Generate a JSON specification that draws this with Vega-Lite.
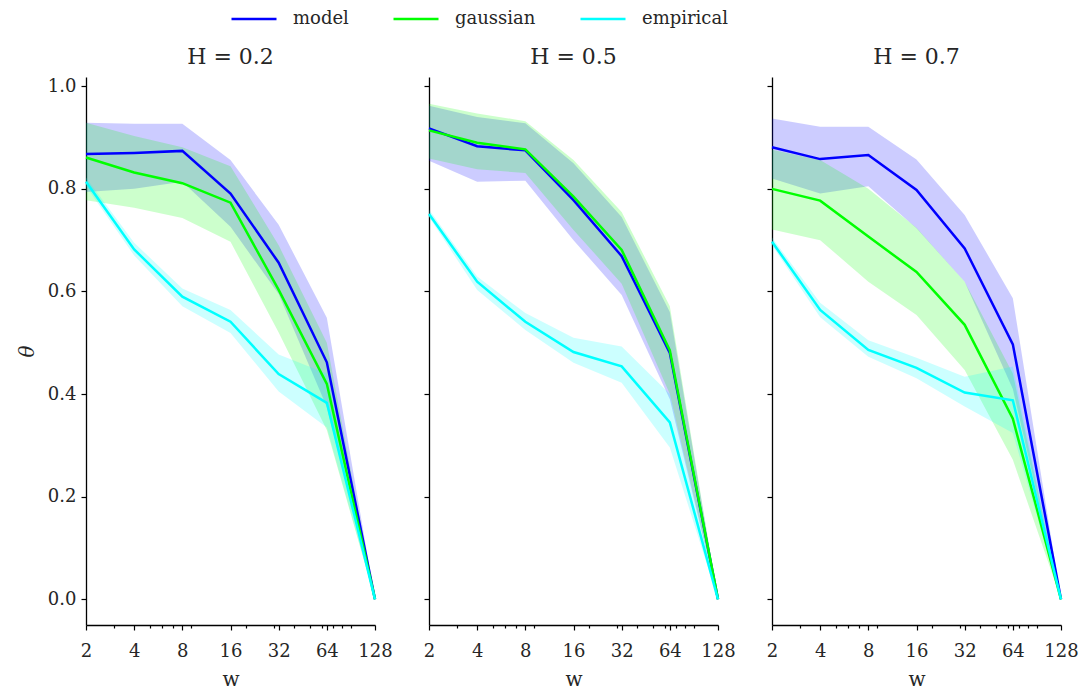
{
  "$schema": "https://vega.github.io/schema/vega-lite/v6.json",
  "background": "white",
  "padding": {"left": 17, "top": -5, "right": 5, "bottom": 0},
  "datasets": {
    "d": [
      {"H": 0.2, "series": "model", "w": 2, "v": 0.868, "lo": 0.794, "hi": 0.929},
      {"H": 0.2, "series": "model", "w": 4, "v": 0.870, "lo": 0.800, "hi": 0.927},
      {"H": 0.2, "series": "model", "w": 8, "v": 0.874, "lo": 0.814, "hi": 0.927},
      {"H": 0.2, "series": "model", "w": 16, "v": 0.791, "lo": 0.726, "hi": 0.856},
      {"H": 0.2, "series": "model", "w": 32, "v": 0.656, "lo": 0.595, "hi": 0.730},
      {"H": 0.2, "series": "model", "w": 64, "v": 0.462, "lo": 0.375, "hi": 0.549},
      {"H": 0.2, "series": "model", "w": 128, "v": 0.0, "lo": 0.0, "hi": 0.0},
      {"H": 0.2, "series": "gaussian", "w": 2, "v": 0.861, "lo": 0.778, "hi": 0.929},
      {"H": 0.2, "series": "gaussian", "w": 4, "v": 0.832, "lo": 0.763, "hi": 0.903},
      {"H": 0.2, "series": "gaussian", "w": 8, "v": 0.811, "lo": 0.743, "hi": 0.881},
      {"H": 0.2, "series": "gaussian", "w": 16, "v": 0.773, "lo": 0.697, "hi": 0.844},
      {"H": 0.2, "series": "gaussian", "w": 32, "v": 0.603, "lo": 0.520, "hi": 0.690},
      {"H": 0.2, "series": "gaussian", "w": 64, "v": 0.420, "lo": 0.330, "hi": 0.500},
      {"H": 0.2, "series": "gaussian", "w": 128, "v": 0.0, "lo": 0.0, "hi": 0.0},
      {"H": 0.2, "series": "empirical", "w": 2, "v": 0.814, "lo": 0.805, "hi": 0.822},
      {"H": 0.2, "series": "empirical", "w": 4, "v": 0.682, "lo": 0.670, "hi": 0.695},
      {"H": 0.2, "series": "empirical", "w": 8, "v": 0.590, "lo": 0.571, "hi": 0.606},
      {"H": 0.2, "series": "empirical", "w": 16, "v": 0.541, "lo": 0.519, "hi": 0.564},
      {"H": 0.2, "series": "empirical", "w": 32, "v": 0.439, "lo": 0.405, "hi": 0.477},
      {"H": 0.2, "series": "empirical", "w": 64, "v": 0.383, "lo": 0.335, "hi": 0.440},
      {"H": 0.2, "series": "empirical", "w": 128, "v": 0.0, "lo": 0.0, "hi": 0.0},
      {"H": 0.5, "series": "model", "w": 2, "v": 0.918, "lo": 0.855, "hi": 0.962},
      {"H": 0.5, "series": "model", "w": 4, "v": 0.883, "lo": 0.814, "hi": 0.940},
      {"H": 0.5, "series": "model", "w": 8, "v": 0.875, "lo": 0.816, "hi": 0.928},
      {"H": 0.5, "series": "model", "w": 16, "v": 0.778, "lo": 0.700, "hi": 0.850},
      {"H": 0.5, "series": "model", "w": 32, "v": 0.669, "lo": 0.593, "hi": 0.745},
      {"H": 0.5, "series": "model", "w": 64, "v": 0.480, "lo": 0.390, "hi": 0.560},
      {"H": 0.5, "series": "model", "w": 128, "v": 0.0, "lo": 0.0, "hi": 0.0},
      {"H": 0.5, "series": "gaussian", "w": 2, "v": 0.914, "lo": 0.859, "hi": 0.966},
      {"H": 0.5, "series": "gaussian", "w": 4, "v": 0.890, "lo": 0.838, "hi": 0.947},
      {"H": 0.5, "series": "gaussian", "w": 8, "v": 0.877, "lo": 0.831, "hi": 0.932},
      {"H": 0.5, "series": "gaussian", "w": 16, "v": 0.785, "lo": 0.720, "hi": 0.856},
      {"H": 0.5, "series": "gaussian", "w": 32, "v": 0.681, "lo": 0.615, "hi": 0.755},
      {"H": 0.5, "series": "gaussian", "w": 64, "v": 0.485, "lo": 0.400, "hi": 0.571},
      {"H": 0.5, "series": "gaussian", "w": 128, "v": 0.0, "lo": 0.0, "hi": 0.0},
      {"H": 0.5, "series": "empirical", "w": 2, "v": 0.751, "lo": 0.745, "hi": 0.760},
      {"H": 0.5, "series": "empirical", "w": 4, "v": 0.619, "lo": 0.603, "hi": 0.629},
      {"H": 0.5, "series": "empirical", "w": 8, "v": 0.541, "lo": 0.525, "hi": 0.558},
      {"H": 0.5, "series": "empirical", "w": 16, "v": 0.482, "lo": 0.461, "hi": 0.510},
      {"H": 0.5, "series": "empirical", "w": 32, "v": 0.454, "lo": 0.422, "hi": 0.493},
      {"H": 0.5, "series": "empirical", "w": 64, "v": 0.345, "lo": 0.296, "hi": 0.400},
      {"H": 0.5, "series": "empirical", "w": 128, "v": 0.0, "lo": 0.0, "hi": 0.0},
      {"H": 0.7, "series": "model", "w": 2, "v": 0.881, "lo": 0.820, "hi": 0.937},
      {"H": 0.7, "series": "model", "w": 4, "v": 0.858, "lo": 0.791, "hi": 0.921},
      {"H": 0.7, "series": "model", "w": 8, "v": 0.866, "lo": 0.805, "hi": 0.921},
      {"H": 0.7, "series": "model", "w": 16, "v": 0.798, "lo": 0.723, "hi": 0.857},
      {"H": 0.7, "series": "model", "w": 32, "v": 0.684, "lo": 0.619, "hi": 0.749},
      {"H": 0.7, "series": "model", "w": 64, "v": 0.497, "lo": 0.410, "hi": 0.587},
      {"H": 0.7, "series": "model", "w": 128, "v": 0.0, "lo": 0.0, "hi": 0.0},
      {"H": 0.7, "series": "gaussian", "w": 2, "v": 0.800, "lo": 0.721, "hi": 0.876},
      {"H": 0.7, "series": "gaussian", "w": 4, "v": 0.777, "lo": 0.700, "hi": 0.856},
      {"H": 0.7, "series": "gaussian", "w": 8, "v": 0.707, "lo": 0.619, "hi": 0.800},
      {"H": 0.7, "series": "gaussian", "w": 16, "v": 0.638, "lo": 0.554, "hi": 0.724},
      {"H": 0.7, "series": "gaussian", "w": 32, "v": 0.535, "lo": 0.447, "hi": 0.619},
      {"H": 0.7, "series": "gaussian", "w": 64, "v": 0.352, "lo": 0.272, "hi": 0.440},
      {"H": 0.7, "series": "gaussian", "w": 128, "v": 0.0, "lo": 0.0, "hi": 0.0},
      {"H": 0.7, "series": "empirical", "w": 2, "v": 0.697, "lo": 0.690, "hi": 0.705},
      {"H": 0.7, "series": "empirical", "w": 4, "v": 0.564, "lo": 0.550, "hi": 0.578},
      {"H": 0.7, "series": "empirical", "w": 8, "v": 0.486, "lo": 0.473, "hi": 0.505},
      {"H": 0.7, "series": "empirical", "w": 16, "v": 0.451, "lo": 0.431, "hi": 0.471},
      {"H": 0.7, "series": "empirical", "w": 32, "v": 0.403, "lo": 0.376, "hi": 0.434},
      {"H": 0.7, "series": "empirical", "w": 64, "v": 0.388, "lo": 0.324, "hi": 0.454},
      {"H": 0.7, "series": "empirical", "w": 128, "v": 0.0, "lo": 0.0, "hi": 0.0}
    ]
  },
  "spacing": 54,
  "bounds": "flush",
  "hconcat": [
    {
      "width": 289, "height": 548,
      "title": "H = 0.2",
      "data": {"name": "d"},
      "transform": [{"filter": "datum.H == 0.2"}],
      "resolve": {"axis": {"x": "independent"}},
      "layer": [
        {
          "mark": {"type": "area", "opacity": 0.2},
          "encoding": {
            "x": {"field": "w", "type": "quantitative", "scale": {"type": "log", "base": 2, "domain": [2, 128], "nice": false},
                  "axis": {"orient": "bottom", "values": [3,5,6,7,9,20,30,40,50,60,70,80,90], "labels": false, "tickSize": 3, "domain": false, "title": null}},
            "y": {"field": "lo", "type": "quantitative", "scale": {"domain": [-0.05, 1.018], "nice": false, "zero": false},
                  "axis": {"values": [0, 0.2, 0.4, 0.6, 0.8, 1.0], "format": ".1f", "title": "θ"}},
            "y2": {"field": "hi"},
            "fill": {"field": "series", "type": "nominal", "scale": {"domain": ["empirical", "gaussian", "model"], "range": ["#00ffff", "#00ff00", "#0000ff"]}, "legend": null}
          }
        },
        {
          "mark": {"type": "line", "strokeWidth": 2.5},
          "encoding": {
            "x": {"field": "w", "type": "quantitative", "scale": {"type": "log", "base": 2, "domain": [2, 128], "nice": false},
                  "axis": {"orient": "bottom", "values": [2, 4, 8, 16, 32, 64, 128], "title": "w"}},
            "y": {"field": "v", "type": "quantitative"},
            "color": {"field": "series", "type": "nominal", "scale": {"domain": ["model", "gaussian", "empirical"], "range": ["#0000ff", "#00ff00", "#00ffff"]},
                      "legend": {"orient": "none", "legendX": 144, "legendY": -82, "direction": "horizontal", "title": null}}
          }
        }
      ]
    },
    {
      "width": 289, "height": 548,
      "title": "H = 0.5",
      "data": {"name": "d"},
      "transform": [{"filter": "datum.H == 0.5"}],
      "resolve": {"axis": {"x": "independent"}},
      "layer": [
        {
          "mark": {"type": "area", "opacity": 0.2},
          "encoding": {
            "x": {"field": "w", "type": "quantitative", "scale": {"type": "log", "base": 2, "domain": [2, 128], "nice": false},
                  "axis": {"orient": "bottom", "values": [3,5,6,7,9,20,30,40,50,60,70,80,90], "labels": false, "tickSize": 3, "domain": false, "title": null}},
            "y": {"field": "lo", "type": "quantitative", "scale": {"domain": [-0.05, 1.018], "nice": false, "zero": false},
                  "axis": {"values": [0, 0.2, 0.4, 0.6, 0.8, 1.0], "labels": false, "title": null}},
            "y2": {"field": "hi"},
            "fill": {"field": "series", "type": "nominal", "legend": null}
          }
        },
        {
          "mark": {"type": "line", "strokeWidth": 2.5},
          "encoding": {
            "x": {"field": "w", "type": "quantitative", "scale": {"type": "log", "base": 2, "domain": [2, 128], "nice": false},
                  "axis": {"orient": "bottom", "values": [2, 4, 8, 16, 32, 64, 128], "title": "w"}},
            "y": {"field": "v", "type": "quantitative"},
            "color": {"field": "series", "type": "nominal",
                      "legend": {"orient": "none", "legendX": 144, "legendY": -82, "direction": "horizontal", "title": null}}
          }
        }
      ]
    },
    {
      "width": 289, "height": 548,
      "title": "H = 0.7",
      "data": {"name": "d"},
      "transform": [{"filter": "datum.H == 0.7"}],
      "resolve": {"axis": {"x": "independent"}},
      "layer": [
        {
          "mark": {"type": "area", "opacity": 0.2},
          "encoding": {
            "x": {"field": "w", "type": "quantitative", "scale": {"type": "log", "base": 2, "domain": [2, 128], "nice": false},
                  "axis": {"orient": "bottom", "values": [3,5,6,7,9,20,30,40,50,60,70,80,90], "labels": false, "tickSize": 3, "domain": false, "title": null}},
            "y": {"field": "lo", "type": "quantitative", "scale": {"domain": [-0.05, 1.018], "nice": false, "zero": false},
                  "axis": {"values": [0, 0.2, 0.4, 0.6, 0.8, 1.0], "labels": false, "title": null}},
            "y2": {"field": "hi"},
            "fill": {"field": "series", "type": "nominal", "legend": null}
          }
        },
        {
          "mark": {"type": "line", "strokeWidth": 2.5},
          "encoding": {
            "x": {"field": "w", "type": "quantitative", "scale": {"type": "log", "base": 2, "domain": [2, 128], "nice": false},
                  "axis": {"orient": "bottom", "values": [2, 4, 8, 16, 32, 64, 128], "title": "w"}},
            "y": {"field": "v", "type": "quantitative"},
            "color": {"field": "series", "type": "nominal",
                      "legend": {"orient": "none", "legendX": 144, "legendY": -82, "direction": "horizontal", "title": null}}
          }
        }
      ]
    }
  ],
  "config": {
    "font": "DejaVu Serif",
    "view": {"stroke": null},
    "axis": {
      "grid": false,
      "domainColor": "#000000",
      "domainWidth": 1.3,
      "tickColor": "#000000",
      "tickWidth": 1.2,
      "tickSize": 5,
      "labelColor": "#262626",
      "labelFont": "DejaVu Serif",
      "labelFontSize": 18,
      "labelFlush": false,
      "labelOverlap": false,
      "titleFont": "DejaVu Serif",
      "titleFontSize": 20,
      "titleFontWeight": "normal",
      "titleColor": "#262626"
    },
    "axisX": {"labelPadding": 12, "titlePadding": 9},
    "axisY": {"labelPadding": 5, "titleFontStyle": "italic", "titlePadding": 10},
    "title": {"font": "DejaVu Serif", "fontSize": 22, "fontWeight": "normal", "color": "#262626", "offset": 8},
    "legend": {
      "labelFont": "DejaVu Serif",
      "labelFontSize": 18,
      "labelColor": "#262626",
      "symbolType": "stroke",
      "symbolSize": 2025,
      "symbolStrokeWidth": 2.5,
      "labelOffset": 15,
      "columnPadding": 39
    }
  }
}
